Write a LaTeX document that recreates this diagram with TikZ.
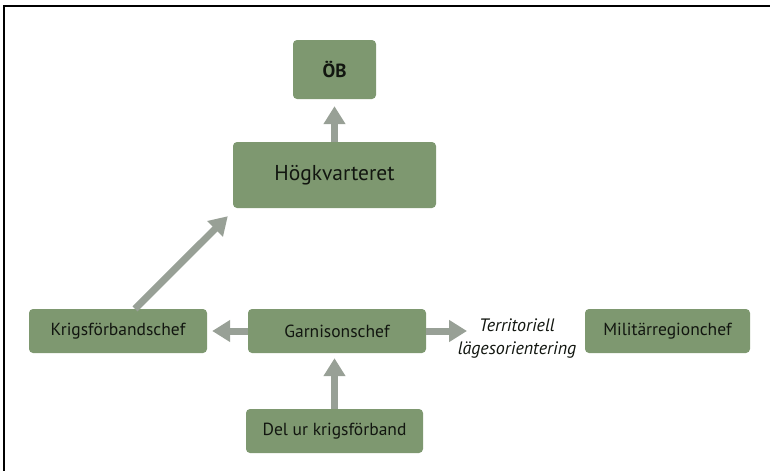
\documentclass[tikz,border=0pt]{standalone}
\usepackage{fontspec}
\setmainfont{PT Sans}
\usetikzlibrary{arrows.meta}
\definecolor{boxgreen}{RGB}{126,152,112}
\definecolor{arrowgray}{RGB}{152,160,150}
\definecolor{inkdark}{RGB}{18,22,16}
\tikzset{
  unit/.style={fill=boxgreen, rounded corners=4pt, inner sep=0pt, text=inkdark,
    minimum height=44pt, font=\fontsize{17.5}{20}\selectfont},
  flow/.style={draw=arrowgray, line width=7pt, -{Triangle[width=21pt,length=18pt]}}
}
\begin{document}
\begin{tikzpicture}[x=1pt,y=-1pt]
\useasboundingbox (0,0) rectangle (770,471);
\draw[line width=2.5pt] (3,6) -- (770,6);
\draw[line width=2.5pt] (4,5) -- (4,471);

\node[unit, minimum width=83pt, minimum height=59pt, font=\bfseries\fontsize{19}{22}\selectfont] (ob) at (334.5,69.5) {ÖB};
\node[unit, minimum width=203pt, minimum height=66pt, font=\fontsize{21.5}{24}\selectfont] (hkv) at (334.5,175) {Högkvarteret};
\node[unit, minimum width=178pt] (krigs) at (118,331) {Krigsförbandschef};
\node[unit, minimum width=178pt] (garn) at (337,331) {Garnisonschef};
\node[unit, minimum width=177pt] (del) at (334.5,431) {Del ur krigsförband};
\node[unit, minimum width=165pt] (milreg) at (667.5,331) {Militärregionchef};
\node[font=\itshape\fontsize{18}{23}\selectfont, align=center, text=inkdark] (terr) at (517,339) {Territoriell\\lägesorientering};
\coordinate (terrtip) at (467,331);

\draw[flow, shorten >=7pt] (hkv.north) -- (ob.south);
\draw[flow, shorten >=5pt] (garn.west) -- (krigs.east);
\draw[flow, shorten >=5pt] (del.north) -- (del.north |- garn.south);
\draw[flow] (garn.east) -- (terrtip);
\draw[flow] ([xshift=17pt]krigs.north) -- ([xshift=-5pt,yshift=-8pt]hkv.south west);

\end{tikzpicture}
\end{document}
